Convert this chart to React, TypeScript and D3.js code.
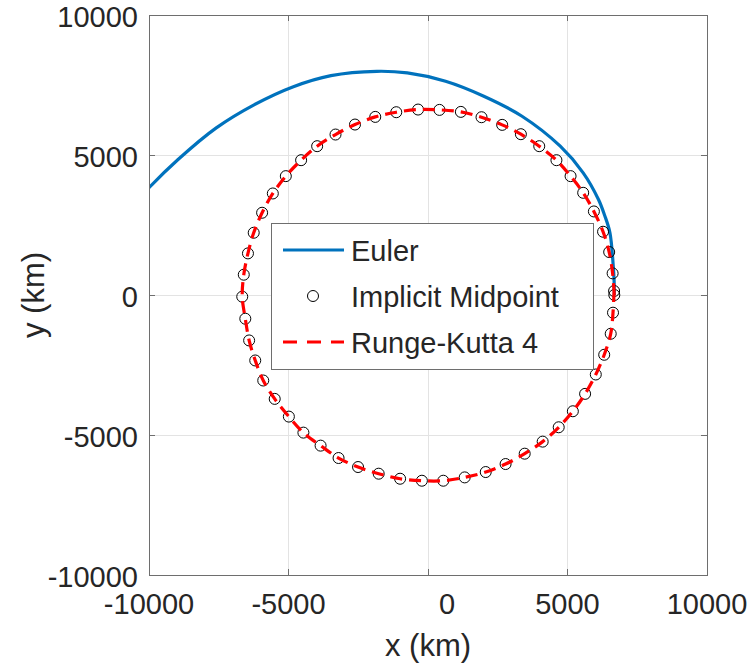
import * as d3 from "d3";

// Euler trajectory (km), in time order
const eulerX = [6678, 6670, 6640, 6521, 6330, 6110, 5562, 4740, 3370, 2000, 630, -740, -1836, -3479, -4849, -6219, -7589, -8959, -10000, -10600];
const eulerY = [0, 520, 1030, 2224, 2850, 3413, 4364, 5315, 6385, 7099, 7634, 7931, 7990, 7836, 7432, 6801, 5969, 4839, 3830, 3150];

// Implicit midpoint samples (km)
const midX = [6678, 6617, 6494, 6275, 5946, 5562, 5110, 4603, 3987, 3329, 2658, 1918, 1178, 411, -356, -1137, -1891, -2617, -3315, -3973, -4548, -5096, -5562, -5946, -6247, -6453, -6603, -6658, -6548, -6411, -6192, -5905, -5494, -4987, -4466, -3850, -3206, -2507, -1767, -1000, -219, 548, 1315, 2069, 2781, 3466, 4110, 4685, 5192, 5631, 6014, 6316, 6549, 6631, 6670];
const midY = [0, 773, 1534, 2259, 2984, 3650, 4245, 4815, 5315, 5743, 6076, 6349, 6540, 6611, 6623, 6528, 6361, 6088, 5731, 5315, 4815, 4245, 3626, 2937, 2223, 1486, 725, -60, -847, -1623, -2338, -3054, -3710, -4343, -4915, -5380, -5822, -6144, -6382, -6562, -6633, -6633, -6514, -6323, -6037, -5667, -5237, -4724, -4152, -3531, -2839, -2135, -1384, -632, 143];

// Runge-Kutta 4 samples sit on the same points in the figure
const rk4X = midX;
const rk4Y = midY;

const ticks = [-10000, -5000, 0, 5000, 10000];
const legendLabels = ["Euler", "Implicit Midpoint", "Runge-Kutta 4"];

const W = 754;
const H = 663;
const plot = { left: 149, right: 707, top: 15, bottom: 575 };
const textColor = "#262626";
const font = "'Liberation Sans', Arial, sans-serif";

export default function App() {
  const x = d3.scaleLinear().domain([-10000, 10000]).range([plot.left, plot.right]);
  const y = d3.scaleLinear().domain([-10000, 10000]).range([plot.bottom, plot.top]);

  const euler = eulerX.map((v, i) => [x(v), y(eulerY[i])] as [number, number]);
  const rk4 = rk4X.map((v, i) => [x(v), y(rk4Y[i])] as [number, number]);

  const smooth = d3.line().curve(d3.curveCatmullRom);

  const tickLen = 6;

  return (
    <svg
      width={W}
      height={H}
      style={{ position: "absolute", left: 0, top: 0, background: "#fff" }}
    >
      <defs>
        <clipPath id="plotArea">
          <rect x={plot.left} y={plot.top} width={plot.right - plot.left} height={plot.bottom - plot.top} />
        </clipPath>
      </defs>
      <rect x={0} y={0} width={W} height={H} fill="#fff" />

      {/* grid */}
      {ticks.slice(1, -1).map((t) => (
        <g key={"g" + t}>
          <line x1={x(t)} x2={x(t)} y1={plot.top} y2={plot.bottom} stroke="#e3e3e3" strokeWidth={1} shapeRendering="crispEdges" />
          <line x1={plot.left} x2={plot.right} y1={y(t)} y2={y(t)} stroke="#e3e3e3" strokeWidth={1} shapeRendering="crispEdges" />
        </g>
      ))}

      <g clipPath="url(#plotArea)">
        <path d={smooth(euler) || ""} fill="none" stroke="#0072BD" strokeWidth={3.2} />
        {midX.map((v, i) => (
          <circle key={i} cx={x(v)} cy={y(midY[i])} r={5.5} fill="none" stroke="#000" strokeWidth={1} />
        ))}
        <path d={smooth(rk4) || ""} fill="none" stroke="#FF0000" strokeWidth={3.2} strokeDasharray="12,7" />
      </g>

      {/* axes box and ticks */}
      <rect x={plot.left} y={plot.top} width={plot.right - plot.left} height={plot.bottom - plot.top} fill="none" stroke="#6e6e6e" strokeWidth={1} shapeRendering="crispEdges" />
      {ticks.map((t) => (
        <g key={"t" + t} stroke="#6e6e6e" strokeWidth={1} shapeRendering="crispEdges">
          <line x1={x(t)} x2={x(t)} y1={plot.bottom} y2={plot.bottom - tickLen} />
          <line x1={x(t)} x2={x(t)} y1={plot.top} y2={plot.top + tickLen} />
          <line x1={plot.left} x2={plot.left + tickLen} y1={y(t)} y2={y(t)} />
          <line x1={plot.right} x2={plot.right - tickLen} y1={y(t)} y2={y(t)} />
        </g>
      ))}

      {/* tick labels */}
      <g fontFamily={font} fontSize={29} fill={textColor}>
        {ticks.map((t) => (
          <text key={"xl" + t} x={x(t) + (t === 0 ? 19 : 0)} y={614} textAnchor="middle">
            {t}
          </text>
        ))}
        {ticks.map((t) => (
          <text key={"yl" + t} x={138} y={y(t) + 12} textAnchor="end">
            {t}
          </text>
        ))}
      </g>

      {/* axis labels */}
      <text x={428} y={656} textAnchor="middle" fontFamily={font} fontSize={31} fill={textColor}>
        x (km)
      </text>
      <text
        transform={`translate(44,${y(0)}) rotate(-90)`}
        textAnchor="middle"
        fontFamily={font}
        fontSize={31}
        fill={textColor}
      >
        y (km)
      </text>

      {/* legend */}
      <g>
        <rect x={271} y={223} width={322} height={146} fill="#fff" stroke="#6e6e6e" strokeWidth={1} shapeRendering="crispEdges" />
        <line x1={283} x2={344} y1={250} y2={250} stroke="#0072BD" strokeWidth={3.2} />
        <circle cx={313} cy={296} r={5.5} fill="none" stroke="#000" strokeWidth={1} />
        <line x1={283} x2={344} y1={342} y2={342} stroke="#FF0000" strokeWidth={3.2} strokeDasharray="14,10" />
        {legendLabels.map((l, i) => (
          <text key={l} x={351} y={261 + i * 46} fontFamily={font} fontSize={29} fill={textColor}>
            {l}
          </text>
        ))}
      </g>
    </svg>
  );
}
